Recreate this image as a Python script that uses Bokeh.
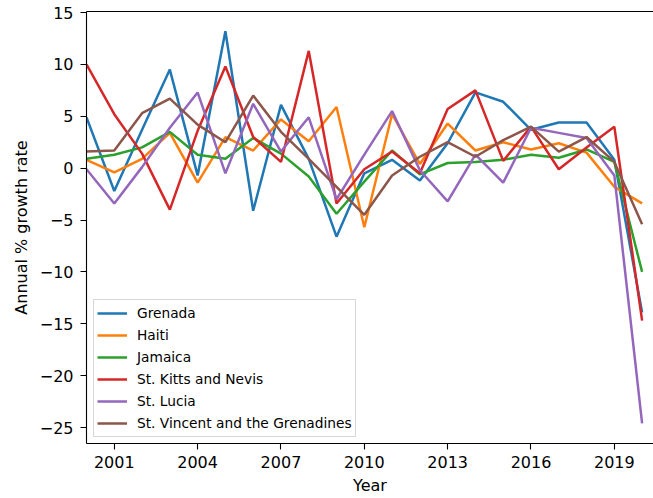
from bokeh.plotting import figure
from bokeh.models import Range1d, FixedTicker, LinearAxis
from bokeh.embed import file_html
from bokeh.resources import INLINE

years = list(range(2000, 2021))
grenada = [4.9, -2.2, 3.7, 9.5, -0.7, 13.2, -4.1, 6.1, 0.9, -6.6, -0.5, 0.8, -1.2, 2.4, 7.3, 6.4, 3.7, 4.4, 4.4, 0.8, -13.9]
haiti = [0.8, -0.4, 0.9, 3.4, -1.4, 3.0, 1.7, 4.7, 2.6, 5.9, -5.7, 5.2, 0.4, 4.3, 1.7, 2.5, 1.8, 2.4, 1.5, -1.8, -3.4]
jamaica = [0.9, 1.3, 2.0, 3.5, 1.3, 0.9, 2.9, 1.4, -0.8, -4.4, -1.3, 1.7, -0.6, 0.5, 0.6, 0.8, 1.3, 1.0, 1.8, 0.6, -10.0]
st_kitts = [10.0, 5.2, 1.4, -4.0, 3.6, 9.8, 3.0, 0.6, 11.3, -3.4, -0.1, 1.6, -0.5, 5.7, 7.5, 0.7, 4.0, -0.1, 2.0, 4.0, -14.7]
st_lucia = [-0.1, -3.4, 0.1, 3.9, 7.3, -0.5, 6.2, 1.6, 4.9, -3.0, 1.3, 5.5, -0.2, -3.2, 1.3, -1.4, 3.9, 3.4, 2.9, -0.7, -24.6]
st_vincent = [1.6, 1.7, 5.3, 6.7, 4.2, 2.5, 7.0, 3.5, 0.9, -1.8, -4.5, -0.7, 1.1, 2.5, 1.1, 2.7, 4.0, 1.6, 3.0, 0.6, -5.4]

series_names = ["Grenada", "Haiti", "Jamaica", "St. Kitts and Nevis", "St. Lucia",
                "St. Vincent and the Grenadines"]
series_values = [grenada, haiti, jamaica, st_kitts, st_lucia, st_vincent]
colors = ["#1f77b4", "#ff7f0e", "#2ca02c", "#d62728", "#9467bd", "#8c564b"]

x_ticks = [2001, 2004, 2007, 2010, 2013, 2016, 2019]
y_ticks = [-25, -20, -15, -10, -5, 0, 5, 10, 15]

FONT = "DejaVu Sans"

p = figure(width=653, height=498, x_range=Range1d(2000, 2020.41), y_range=Range1d(-26.54, 15.1),
           output_backend="svg", toolbar_location=None,
           min_border_left=86, min_border_right=0, min_border_top=11, min_border_bottom=55,
           background_fill_color="white", border_fill_color="white")
p.outline_line_color = None
p.xgrid.visible = False
p.ygrid.visible = False

for name, vals, c in zip(series_names, series_values, colors):
    p.line(years, vals, line_color=c, line_width=2.5, legend_label=name)

for ax in (p.xaxis[0], p.yaxis[0]):
    ax.axis_line_color = "black"
    ax.axis_line_width = 1.1
    ax.major_tick_line_color = "black"
    ax.major_tick_line_width = 1.1
    ax.major_tick_in = 0
    ax.major_tick_out = 6
    ax.minor_tick_line_color = None
    ax.major_label_text_font = FONT
    ax.major_label_text_font_size = "16px"
    ax.major_label_text_color = "black"
    ax.axis_label_text_font = FONT
    ax.axis_label_text_font_size = "16px"
    ax.axis_label_text_font_style = "normal"
    ax.axis_label_text_color = "black"

p.xaxis[0].ticker = FixedTicker(ticks=x_ticks)
p.yaxis[0].ticker = FixedTicker(ticks=y_ticks)
p.yaxis[0].major_label_overrides = {t: (("\u2212" + str(abs(t))) if t < 0 else str(t)) for t in y_ticks}
p.xaxis[0].axis_label = "Year"
p.yaxis[0].axis_label = "Annual % growth rate"
p.xaxis[0].major_label_standoff = 6
p.yaxis[0].major_label_standoff = 7
p.xaxis[0].axis_label_standoff = 5
p.yaxis[0].axis_label_standoff = 6

top = LinearAxis(ticker=FixedTicker(ticks=[]), major_tick_in=0, major_tick_out=0,
                 major_label_standoff=0, axis_line_color="black", axis_line_width=1.1,
                 major_label_text_font_size="0px", minor_tick_line_color=None)
p.add_layout(top, "above")

lg = p.legend[0]
lg.location = (7, 6)
lg.margin = 0
lg.padding = 3
lg.spacing = 2
lg.label_height = 20
lg.glyph_height = 20
lg.glyph_width = 30
lg.label_standoff = 10
lg.label_text_font = FONT
lg.label_text_font_size = "13.75px"
lg.label_text_color = "black"
lg.border_line_color = "#cccccc"
lg.border_line_alpha = 0.8
lg.border_line_width = 1
lg.background_fill_color = "white"
lg.background_fill_alpha = 0.8

open("out.html", "w").write(file_html(p, INLINE))
